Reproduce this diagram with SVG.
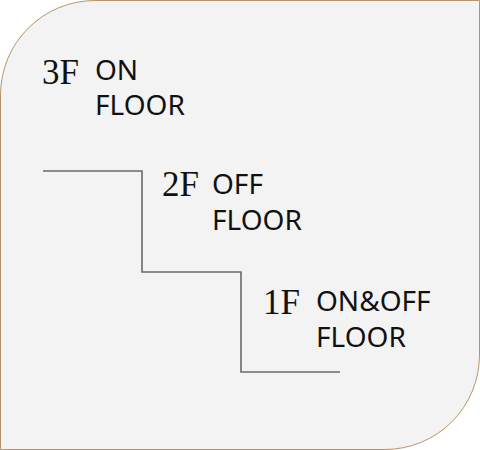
<svg xmlns="http://www.w3.org/2000/svg" width="480" height="450" viewBox="0 0 480 450">
<style>
.num{font-family:"Liberation Serif",serif;font-size:35px;fill:#111}
.lbl{font-family:"Noto Sans",sans-serif;font-size:28px;fill:#111}
.step{fill:none;stroke:#6a6a6a;stroke-width:1.6}
</style>
<g id="panel">
<path d="M95,0.5 H479.5 V355 A94.5,94.5 0 0 1 385,449.5 H0.5 V95 A94.5,94.5 0 0 1 95,0.5 Z" fill="#f3f3f3" stroke="#b8946a" stroke-width="1"/>
</g>
<g id="connectors">
<path class="step" d="M43,171 H142 V272 H241 V372 H340"/>
</g>
<g id="floor3">
<text class="num" x="42" y="84">3F</text>
<text class="lbl" x="95" y="80">ON</text>
<text class="lbl" x="95" y="115">FLOOR</text>
</g>
<g id="floor2">
<text class="num" x="162" y="196">2F</text>
<text class="lbl" x="212" y="194">OFF</text>
<text class="lbl" x="212" y="230">FLOOR</text>
</g>
<g id="floor1">
<text class="num" x="263" y="314">1F</text>
<text class="lbl" x="316" y="311">ON&amp;OFF</text>
<text class="lbl" x="316" y="347">FLOOR</text>
</g>
</svg>
